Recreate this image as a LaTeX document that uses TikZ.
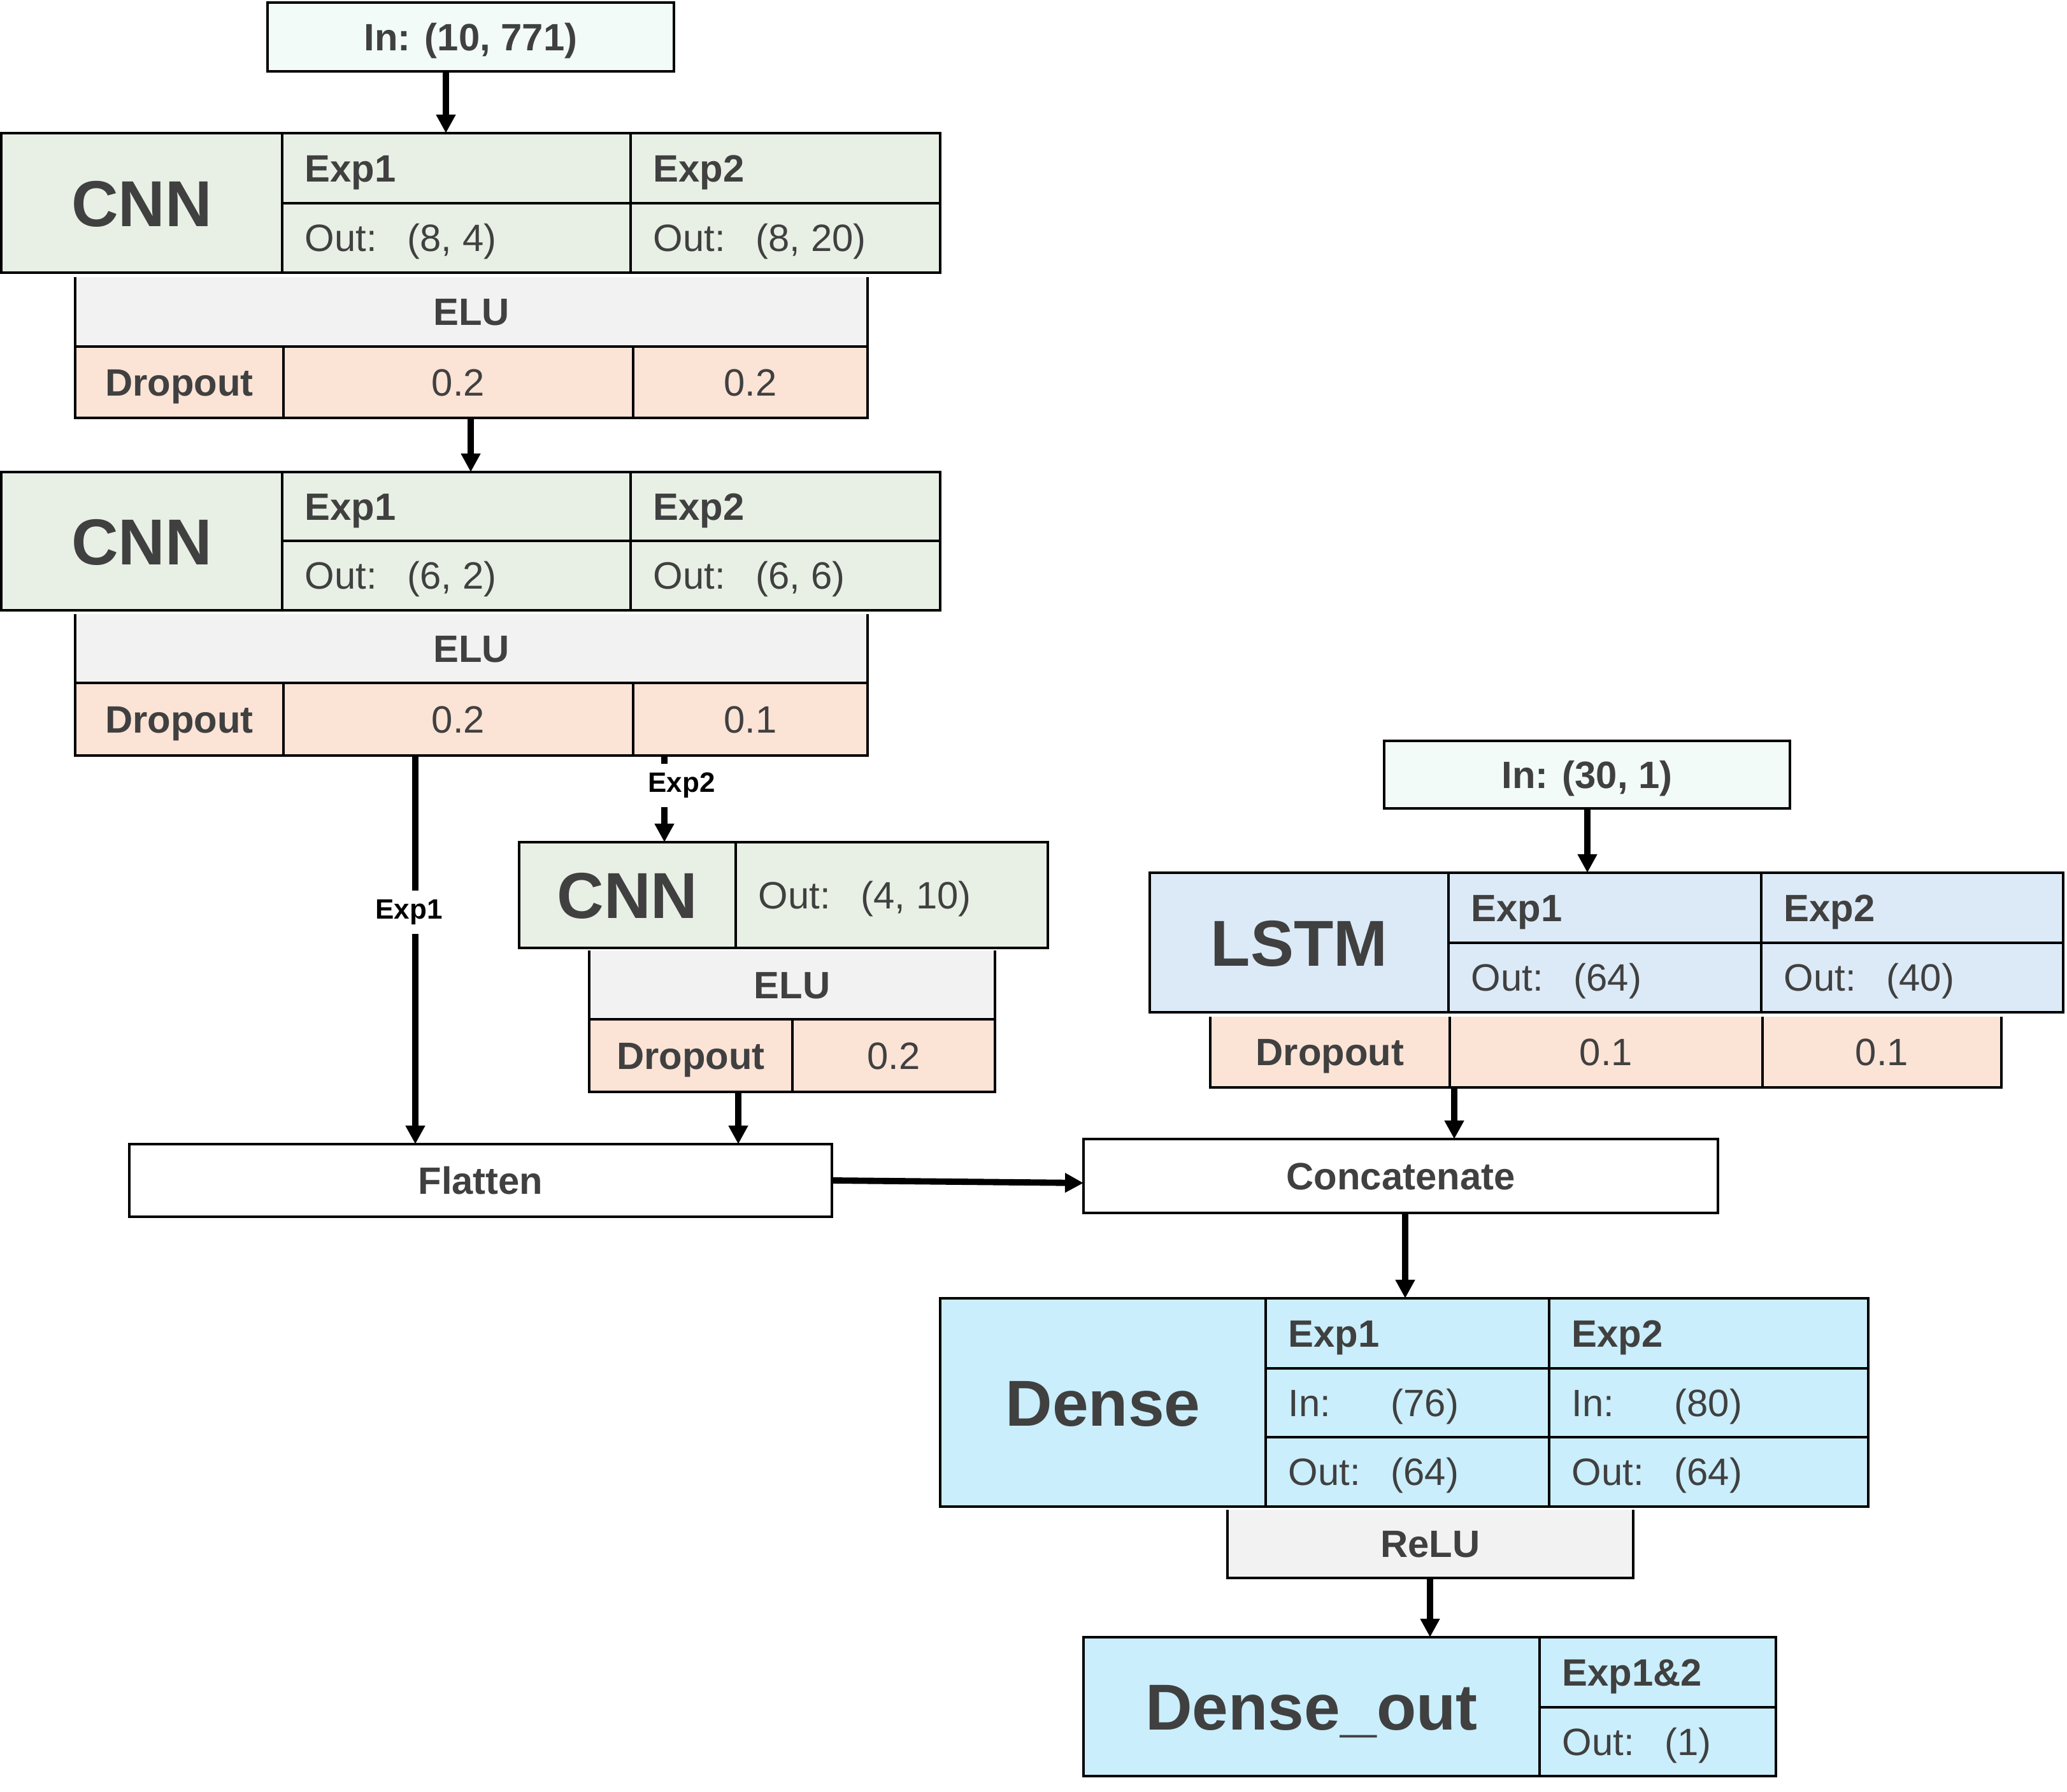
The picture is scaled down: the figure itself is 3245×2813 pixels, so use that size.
\documentclass[tikz,border=0pt]{standalone}
\usepackage{fontspec}
\setmainfont{Liberation Sans}
\usetikzlibrary{arrows.meta}
\definecolor{inbg}{HTML}{F2FBF8}
\definecolor{cnn}{HTML}{E8F0E5}
\definecolor{grayc}{HTML}{F2F2F2}
\definecolor{peach}{HTML}{FBE3D6}
\definecolor{lstm}{HTML}{DCEAF7}
\definecolor{dense}{HTML}{CAEEFB}
\definecolor{txtc}{HTML}{404040}
\newcommand{\fbx}[6]{\node[fb,fill=#6,minimum width={(#4-#2)*0.01cm},minimum height={(#5-#3)*0.01cm}] (#1) at ({(#2+#4)/2},{(#3+#5)/2}) {};}
\newcommand{\obx}[5]{\node[ob,minimum width={(#4-#2)*0.01cm},minimum height={(#5-#3)*0.01cm}] (#1) at ({(#2+#4)/2},{(#3+#5)/2}) {};}
\newcommand{\celltl}[3]{\node[#3,anchor=base west] (#1t) at ([xshift=0.35cm,yshift=-6.1pt]#1.west) {#2};}
\newcommand{\celltc}[3]{\node[#3,anchor=base] (#1t) at ([yshift=-6.1pt]#1.center) {#2};}
\newcommand{\cellbig}[2]{\node[bigt,anchor=base] (#1t) at ([yshift=-10.4pt]#1.center) {#2};}
\newcommand{\ovv}[2]{\makebox[1.61cm][l]{#1}#2}
\begin{document}
\begin{tikzpicture}[x=0.01cm,y=-0.01cm,
  fb/.style={inner sep=0pt,outer sep=0pt,draw=none},
  ob/.style={inner sep=0pt,outer sep=0pt,draw=black,line width=1.15pt,fill=none},
  ln/.style={line width=1.15pt},
  ol/.style={line width=1.15pt},
  arr/.style={line width=2.8pt,-{Triangle[length=0.29cm,width=0.29cm]}},
  bigt/.style={font=\fontsize{29}{34}\selectfont\bfseries,text=txtc,inner sep=0pt},
  midt/.style={font=\fontsize{17}{20}\selectfont\bfseries,text=txtc,inner sep=0pt},
  regt/.style={font=\fontsize{17}{20}\selectfont,text=txtc,inner sep=0pt},
  alab/.style={font=\fontsize{12.5}{15}\selectfont\bfseries,text=black,fill=white,inner xsep=1pt,inner ysep=4pt}]
\useasboundingbox (0,0) rectangle (3245,2813);

% ---------- Input 1 ----------
\fbx{in1}{420}{4}{1058}{112}{inbg}
\draw[ol] (in1.north west) rectangle (in1.south east);
\celltc{in1}{In: (10, 771)}{midt}

% ---------- CNN 1 ----------
\fbx{c1L}{2}{209}{443}{428}{cnn}
\fbx{c1a}{443}{209}{990}{319}{cnn}
\fbx{c1b}{990}{209}{1476}{319}{cnn}
\fbx{c1c}{443}{319}{990}{428}{cnn}
\fbx{c1d}{990}{319}{1476}{428}{cnn}
\draw[ln] (c1L.north east) -- (c1L.south east) (c1a.north east) -- (c1c.south east) (c1a.south west) -- (c1b.south east);
\obx{cnn1}{2}{209}{1476}{428}
\cellbig{c1L}{CNN}
\celltl{c1a}{Exp1}{midt}
\celltl{c1b}{Exp2}{midt}
\celltl{c1c}{\ovv{Out:}{(8, 4)}}{regt}
\celltl{c1d}{\ovv{Out:}{(8, 20)}}{regt}

% ---------- ELU / Dropout 1 ----------
\fbx{e1}{118}{435}{1362}{544}{grayc}
\fbx{e1L}{118}{544}{445}{656}{peach}
\fbx{e1a}{445}{544}{994}{656}{peach}
\fbx{e1b}{994}{544}{1362}{656}{peach}
\draw[ln] (e1.south west) -- (e1.south east) (e1L.north east) -- (e1L.south east) (e1a.north east) -- (e1a.south east);
\draw[ol] (e1.north west) |- (e1b.south east) -- (e1.north east);
\celltc{e1}{ELU}{midt}
\celltc{e1L}{Dropout}{midt}
\celltc{e1a}{0.2}{regt}
\celltc{e1b}{0.2}{regt}

% ---------- CNN 2 ----------
\fbx{c2L}{2}{741}{443}{958}{cnn}
\fbx{c2a}{443}{741}{990}{849}{cnn}
\fbx{c2b}{990}{741}{1476}{849}{cnn}
\fbx{c2c}{443}{849}{990}{958}{cnn}
\fbx{c2d}{990}{849}{1476}{958}{cnn}
\draw[ln] (c2L.north east) -- (c2L.south east) (c2a.north east) -- (c2c.south east) (c2a.south west) -- (c2b.south east);
\obx{cnn2}{2}{741}{1476}{958}
\cellbig{c2L}{CNN}
\celltl{c2a}{Exp1}{midt}
\celltl{c2b}{Exp2}{midt}
\celltl{c2c}{\ovv{Out:}{(6, 2)}}{regt}
\celltl{c2d}{\ovv{Out:}{(6, 6)}}{regt}

% ---------- ELU / Dropout 2 ----------
\fbx{e2}{118}{964}{1362}{1072}{grayc}
\fbx{e2L}{118}{1072}{445}{1186}{peach}
\fbx{e2a}{445}{1072}{994}{1186}{peach}
\fbx{e2b}{994}{1072}{1362}{1186}{peach}
\draw[ln] (e2.south west) -- (e2.south east) (e2L.north east) -- (e2L.south east) (e2a.north east) -- (e2a.south east);
\draw[ol] (e2.north west) |- (e2b.south east) -- (e2.north east);
\celltc{e2}{ELU}{midt}
\celltc{e2L}{Dropout}{midt}
\celltc{e2a}{0.2}{regt}
\celltc{e2b}{0.1}{regt}

% ---------- CNN 3 ----------
\fbx{c3L}{815}{1322}{1155}{1488}{cnn}
\fbx{c3R}{1155}{1322}{1645}{1488}{cnn}
\draw[ln] (c3L.north east) -- (c3L.south east);
\obx{cnn3}{815}{1322}{1645}{1488}
\cellbig{c3L}{CNN}
\celltl{c3R}{\ovv{Out:}{(4, 10)}}{regt}

% ---------- ELU / Dropout 3 ----------
\fbx{e3}{925}{1492}{1562}{1600}{grayc}
\fbx{e3L}{925}{1600}{1244}{1714}{peach}
\fbx{e3R}{1244}{1600}{1562}{1714}{peach}
\draw[ln] (e3.south west) -- (e3.south east) (e3L.north east) -- (e3L.south east);
\draw[ol] (e3.north west) |- (e3R.south east) -- (e3.north east);
\celltc{e3}{ELU}{midt}
\celltc{e3L}{Dropout}{midt}
\celltc{e3R}{0.2}{regt}

% ---------- Flatten / Concatenate ----------
\fbx{flat}{203}{1796}{1306}{1910}{white}
\draw[ol] (flat.north west) rectangle (flat.south east);
\celltc{flat}{Flatten}{midt}
\fbx{concat}{1701}{1788}{2697}{1904}{white}
\draw[ol] (concat.north west) rectangle (concat.south east);
\celltc{concat}{Concatenate}{midt}

% ---------- Input 2 ----------
\fbx{in2}{2173}{1163}{2810}{1269}{inbg}
\draw[ol] (in2.north west) rectangle (in2.south east);
\celltc{in2}{In: (30, 1)}{midt}

% ---------- LSTM ----------
\fbx{lL}{1805}{1370}{2274}{1589}{lstm}
\fbx{la}{2274}{1370}{2765}{1480}{lstm}
\fbx{lb}{2765}{1370}{3239}{1480}{lstm}
\fbx{lc}{2274}{1480}{2765}{1589}{lstm}
\fbx{ld}{2765}{1480}{3239}{1589}{lstm}
\draw[ln] (lL.north east) -- (lL.south east) (la.north east) -- (lc.south east) (la.south west) -- (lb.south east);
\obx{lstm1}{1805}{1370}{3239}{1589}
\cellbig{lL}{LSTM}
\celltl{la}{Exp1}{midt}
\celltl{lb}{Exp2}{midt}
\celltl{lc}{\ovv{Out:}{(64)}}{regt}
\celltl{ld}{\ovv{Out:}{(40)}}{regt}

% ---------- LSTM Dropout ----------
\fbx{ldL}{1900}{1596}{2276}{1707}{peach}
\fbx{ldA}{2276}{1596}{2767}{1707}{peach}
\fbx{ldB}{2767}{1596}{3142}{1707}{peach}
\draw[ln] (ldL.north east) -- (ldL.south east) (ldA.north east) -- (ldA.south east);
\draw[ol] (ldL.north west) |- (ldB.south east) -- (ldB.north east);
\celltc{ldL}{Dropout}{midt}
\celltc{ldA}{0.1}{regt}
\celltc{ldB}{0.1}{regt}

% ---------- Dense ----------
\fbx{dL}{1476}{2038}{1987}{2365}{dense}
\fbx{da}{1987}{2038}{2432}{2148}{dense}
\fbx{db}{2432}{2038}{2933}{2148}{dense}
\fbx{dc}{1987}{2148}{2432}{2256}{dense}
\fbx{dd}{2432}{2148}{2933}{2256}{dense}
\fbx{de}{1987}{2256}{2432}{2365}{dense}
\fbx{df}{2432}{2256}{2933}{2365}{dense}
\draw[ln] (dL.north east) -- (dL.south east) (da.north east) -- (de.south east) (da.south west) -- (db.south east) (dc.south west) -- (dd.south east);
\obx{dense1}{1476}{2038}{2933}{2365}
\cellbig{dL}{Dense}
\celltl{da}{Exp1}{midt}
\celltl{db}{Exp2}{midt}
\celltl{dc}{\ovv{In:}{(76)}}{regt}
\celltl{dd}{\ovv{In:}{(80)}}{regt}
\celltl{de}{\ovv{Out:}{(64)}}{regt}
\celltl{df}{\ovv{Out:}{(64)}}{regt}

% ---------- ReLU ----------
\fbx{relu}{1927}{2370}{2564}{2477}{grayc}
\draw[ol] (relu.north west) |- (relu.south east) -- (relu.north east);
\celltc{relu}{ReLU}{midt}

% ---------- Dense_out ----------
\fbx{oL}{1701}{2570}{2417}{2788}{dense}
\fbx{oa}{2417}{2570}{2788}{2680}{dense}
\fbx{ob}{2417}{2680}{2788}{2788}{dense}
\draw[ln] (oL.north east) -- (oL.south east) (oa.south west) -- (oa.south east);
\obx{denseout}{1701}{2570}{2788}{2788}
\cellbig{oL}{Dense\_out}
\celltl{oa}{Exp1\&2}{midt}
\celltl{ob}{\ovv{Out:}{(1)}}{regt}

% ---------- Connectors ----------
\coordinate (ax1) at (700,0);
\coordinate (ax2) at (739,0);
\coordinate (ax3) at (652,0);
\coordinate (ax4) at (1043,0);
\coordinate (ax5) at (1159,0);
\coordinate (ax6) at (2283,0);
\coordinate (ax7) at (2492,0);
\coordinate (ax8) at (2206,0);
\coordinate (ax9) at (2245,0);
\draw[arr] (in1.south -| ax1) -- (ax1 |- cnn1.north);
\draw[arr] (e1a.south -| ax2) -- (ax2 |- cnn2.north);
\draw[arr] (e2a.south -| ax3) -- (ax3 |- flat.north);
\node[alab] (lab1) at (642,1432) {Exp1};
\draw[arr] (e2b.south -| ax4) -- (ax4 |- cnn3.north);
\node[alab] (lab2) at (1070,1233) {Exp2};
\draw[arr] (e3L.south -| ax5) -- (ax5 |- flat.north);
\draw[arr] (flat.east) -- ([yshift=-0.11cm]concat.west);
\draw[arr] (in2.south -| ax7) -- (ax7 |- lstm1.north);
\draw[arr] (ldA.south -| ax6) -- (ax6 |- concat.north);
\draw[arr] (concat.south -| ax8) -- (ax8 |- dense1.north);
\draw[arr] (relu.south -| ax9) -- (ax9 |- denseout.north);
\end{tikzpicture}
\end{document}
